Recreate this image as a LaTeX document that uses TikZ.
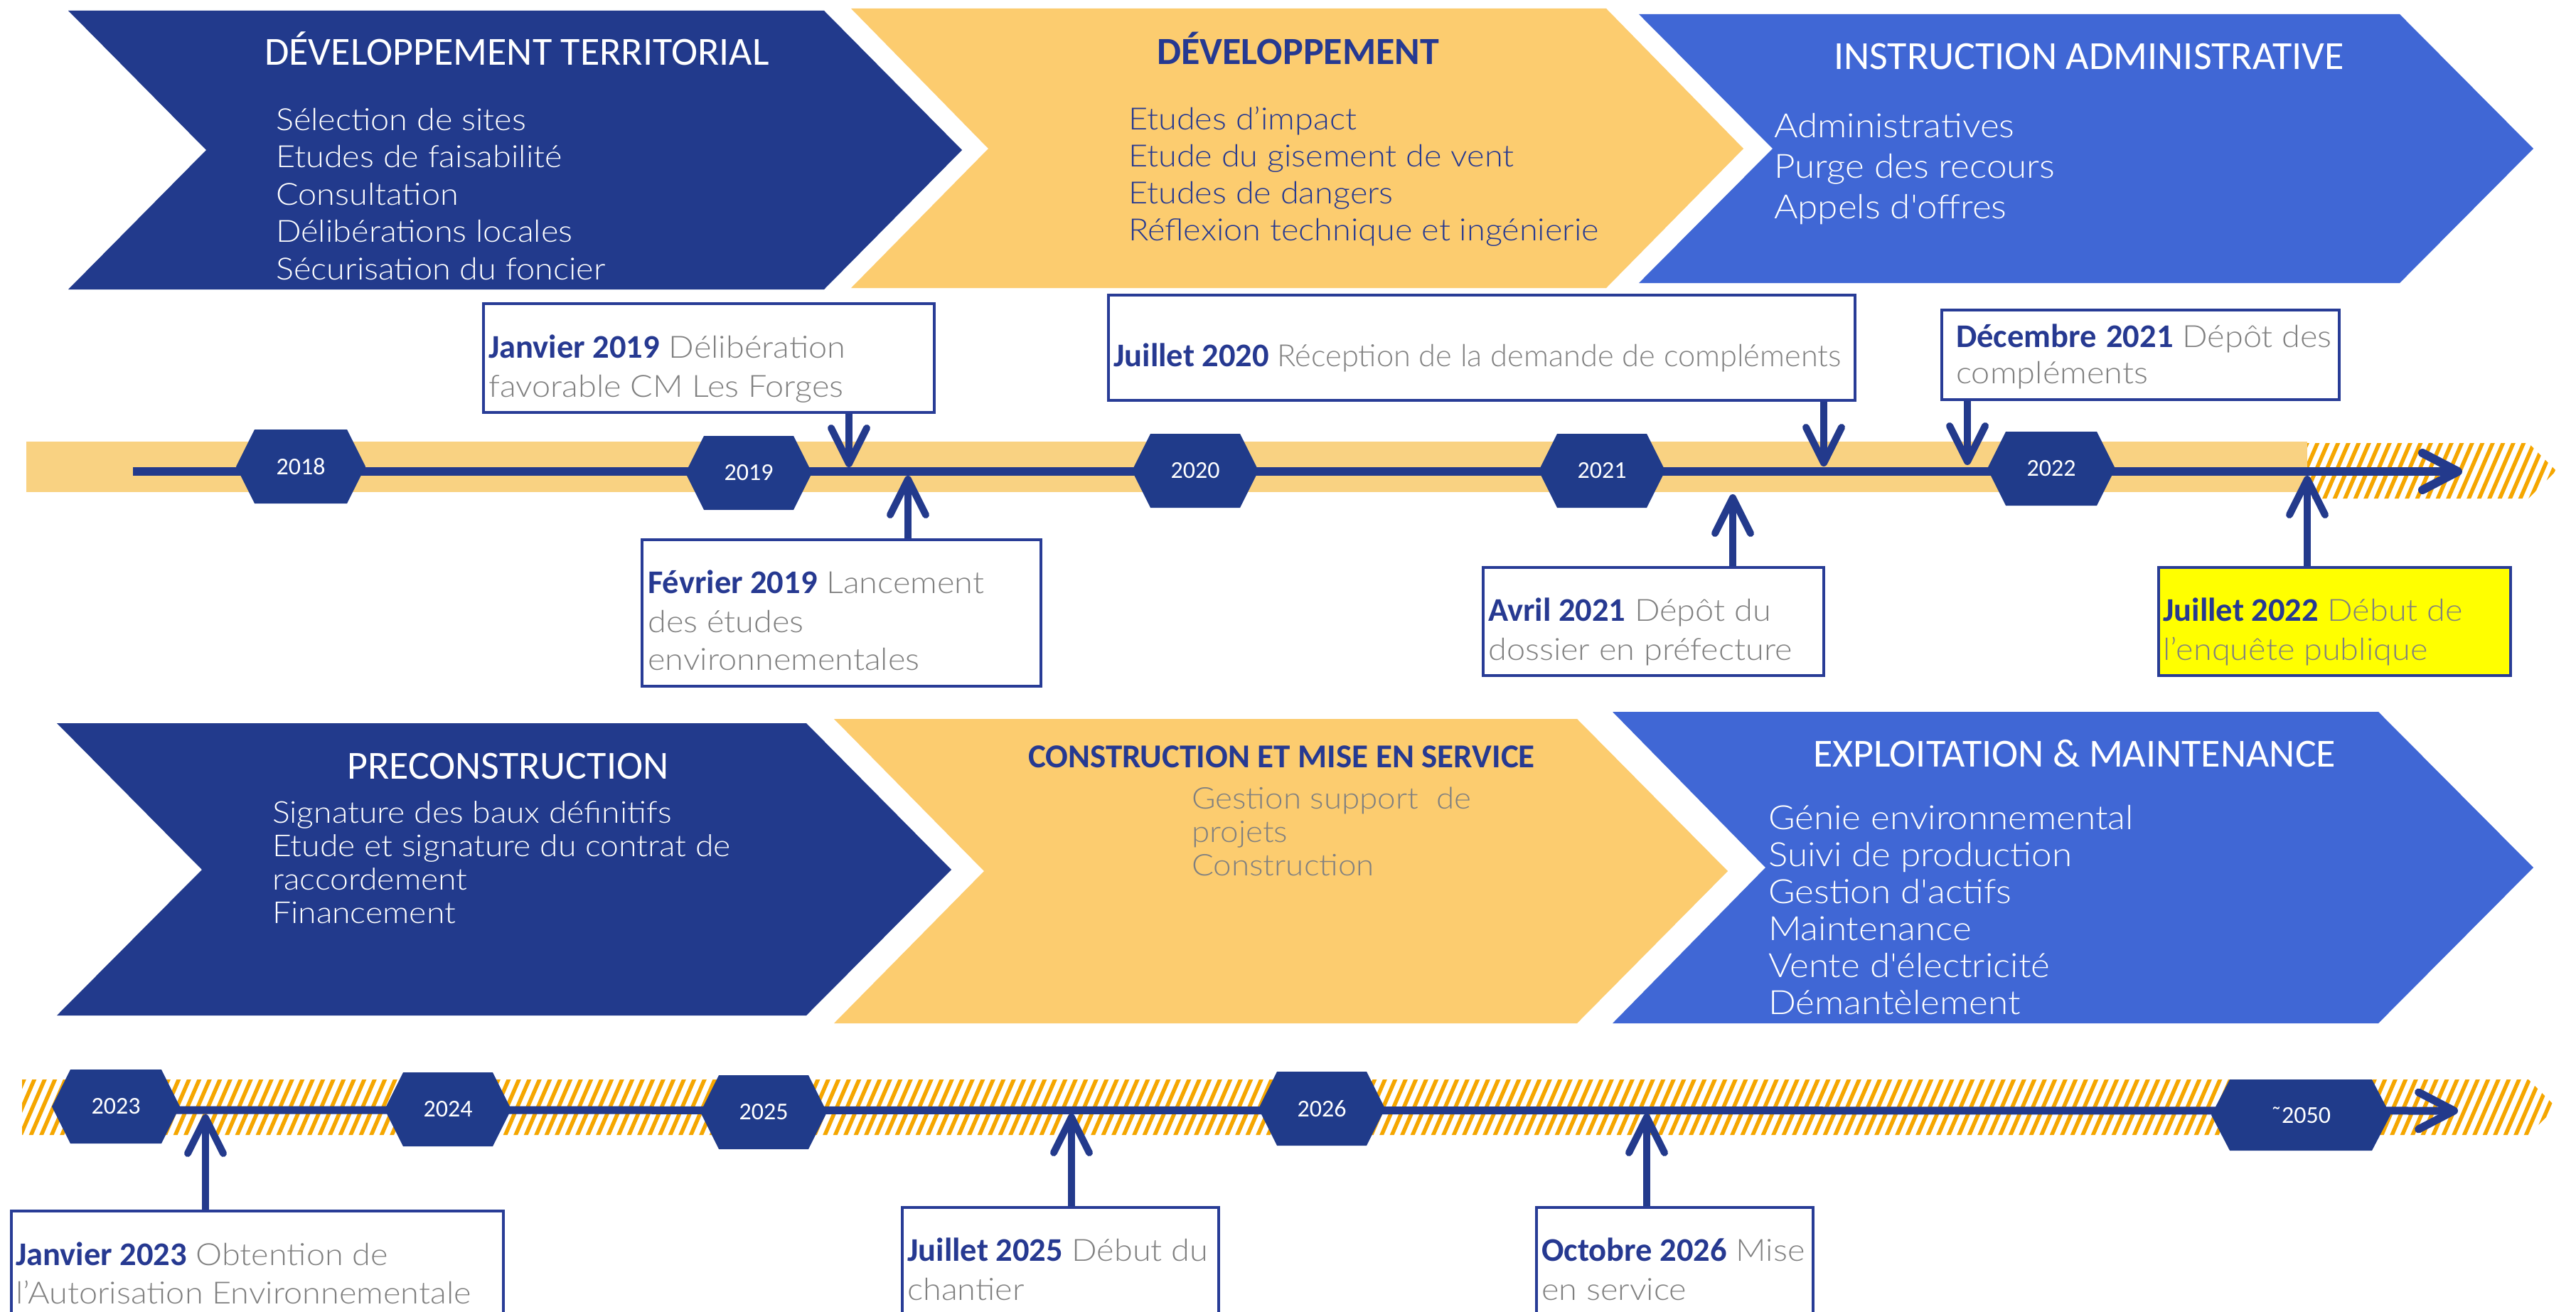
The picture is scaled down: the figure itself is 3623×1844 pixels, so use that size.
\documentclass[tikz,border=0pt]{standalone}
\usepackage{fontspec}
\setmainfont{Carlito}
\newfontfamily\lightf{Lato Light}[FakeStretch=1.09]
\newfontfamily\lightn{Lato Light}[FakeStretch=1.01]
\usetikzlibrary{arrows.meta}
\definecolor{cdark}{RGB}{34,58,140}
\definecolor{cyellow}{RGB}{252,204,111}
\definecolor{clight}{RGB}{64,103,213}
\definecolor{bandyellow}{RGB}{249,210,130}
\definecolor{hexblue}{RGB}{32,59,138}
\definecolor{lineblue}{RGB}{35,58,140}
\definecolor{hatchorange}{RGB}{245,166,0}
\definecolor{evblue}{RGB}{38,57,145}
\definecolor{evgray}{RGB}{128,128,128}
\definecolor{boxblue}{RGB}{40,60,150}
\definecolor{evyellow}{RGB}{255,255,0}
\newcommand\evdate[1]{{\normalfont\bfseries\fontsize{46.5}{52}\selectfont\color{evblue}#1}}
\newcommand\yearhex[6]{%
  \fill[hexblue] ({#2-#4+26},{#3-#5}) -- ({#2+#4-26},{#3-#5}) -- ({#2+#4},#3) --
    ({#2+#4-26},{#3+#5}) -- ({#2-#4+26},{#3+#5}) -- ({#2-#4},#3) -- cycle;
  \node[yeartxt] (#1) at (#2,#3) {#6};}
\tikzset{
  chevtitle/.style={anchor=base west, inner sep=0pt, text=white, font=\fontsize{56}{60}\selectfont},
  chevbody/.style={anchor=base west, inner sep=0pt, font=\lightf\fontsize{43}{52}\selectfont},
  yeartxt/.style={text=white, inner sep=0pt, font=\fontsize{34}{36}\selectfont},
  evbox/.style={draw=boxblue, line width=4pt, fill=white, anchor=north west, inner sep=0pt},
  evtext/.style={anchor=base west, inner sep=0pt, text=evgray, font=\lightf\fontsize{43}{52}\selectfont},
  evarrow/.style={draw=lineblue, line width=10pt, -{Straight Barb[length=50pt,width=50pt,round]}},
  tline/.style={draw=lineblue, line width=12pt, -{Straight Barb[length=50pt,width=52pt,round]}},
  hatchline/.style={draw=hatchorange, line width=5.5pt}
}
\begin{document}
\begin{tikzpicture}[x=1pt,y=-1pt]
\useasboundingbox (0,0) rectangle (3623,1844);
\clip (0,0) rectangle (3623,1844);
\fill[white] (0,0) rectangle (3623,1844);

% ---------- top chevrons ----------
\fill[cdark] (96,15) -- (1159,15) -- (1353,211) -- (1159,407) -- (96,407) -- (290,211) -- cycle;
\fill[cyellow] (1197,12) -- (2259,12) -- (2452,209) -- (2259,405) -- (1197,405) -- (1390,209) -- cycle;
\fill[clight] (2305,20) -- (3375,20) -- (3563,209) -- (3375,398) -- (2305,398) -- (2493,209) -- cycle;

\node[chevtitle] (t1) at (372,92) {DÉVELOPPEMENT TERRITORIAL};
\node[chevtitle, text=evblue, font=\bfseries\fontsize{54}{60}\selectfont] (t2) at (1627,90) {DÉVELOPPEMENT};
\node[chevtitle] (t3) at (2579,97) {INSTRUCTION ADMINISTRATIVE};

\foreach \t [count=\i] in {Sélection de sites, Etudes de faisabilité, Consultation, Délibérations locales, Sécurisation du foncier}
  \node[chevbody, text=white] (ba\i) at (388,{183+52.5*(\i-1)}) {\t};
\foreach \t [count=\i] in {Etudes d’impact, Etude du gisement de vent, Etudes de dangers, Réflexion technique et ingénierie}
  \node[chevbody, text=evblue] (bb\i) at (1587,{182+52.3*(\i-1)}) {\t};
\foreach \t [count=\i] in {Administratives, Purge des recours, Appels d'offres}
  \node[chevbody, text=white, font=\lightf\fontsize{47}{52}\selectfont] (bc\i) at (2495,{193+57*(\i-1)}) {\t};

% ---------- bottom chevrons ----------
\fill[cdark] (80,1017) -- (1134,1017) -- (1338,1223) -- (1134,1428) -- (80,1428) -- (284,1223) -- cycle;
\fill[cyellow] (1173,1011) -- (2218,1011) -- (2430,1225) -- (2218,1439) -- (1173,1439) -- (1384,1225) -- cycle;
\fill[clight] (2268,1001) -- (3345,1001) -- (3563,1220) -- (3345,1439) -- (2268,1439) -- (2483,1220) -- cycle;

\node[chevtitle] (t4) at (488,1095) {PRECONSTRUCTION};
\node[chevtitle, text=evblue, font=\bfseries\fontsize{47}{52}\selectfont] (t5) at (1446,1079) {CONSTRUCTION ET MISE EN SERVICE};
\node[chevtitle] (t6) at (2550,1078) {EXPLOITATION \& MAINTENANCE};

\foreach \t [count=\i] in {Signature des baux définitifs, Etude et signature du contrat de, raccordement, Financement}
  \node[chevbody, text=white, font=\lightf\fontsize{42.5}{48}\selectfont] (bd\i) at (383,{1157+47*(\i-1)}) {\t};
\foreach \t [count=\i] in {Gestion support\ \ de, projets, Construction}
  \node[chevbody, text=evgray, font=\lightf\fontsize{42}{48}\selectfont] (be\i) at (1676,{1137+47*(\i-1)}) {\t};
\foreach \t [count=\i] in {Génie environnemental, Suivi de production, Gestion d'actifs, Maintenance, Vente d'électricité, Démantèlement}
  \node[chevbody, text=white, font=\lightf\fontsize{47}{52}\selectfont] (bf\i) at (2487,{1166+52*(\i-1)}) {\t};

% ---------- timeline 1 ----------
\fill[bandyellow] (37,621) rectangle (3245,692);
\begin{scope}
  \clip (3245,623) -- (3556,623) -- (3595,662) -- (3556,701) -- (3245,701) -- cycle;
  \foreach \x in {3180,3194.5,...,3620} \draw[hatchline] (\x,706) -- ++(38,-88);
\end{scope}
\coordinate (l1s) at (187,663);
\coordinate (l1e) at (3463,663);
\draw[tline] (l1s) -- (l1e);

\yearhex{y18}{423}{656}{91}{52}{2018}
\yearhex{y19}{1053}{665}{89}{52}{2019}
\yearhex{y20}{1681}{662}{89}{52}{2020}
\yearhex{y21}{2253}{662}{89}{52}{2021}
\yearhex{y22}{2885}{659}{90}{52}{2022}

% event boxes top
\node[evbox, minimum width=634pt, minimum height=153pt] (bj19) at (678,425) {};
\node[evtext] (tj19a) at (687,503) {\evdate{Janvier 2019} Délibération};
\node[evtext] (tj19b) at (687,558) {favorable CM Les Forges};

\node[evbox, minimum width=561pt, minimum height=206pt] (bf19) at (901,757) {};
\node[evtext] (tf19a) at (911,834) {\evdate{Février 2019} Lancement};
\node[evtext] (tf19b) at (911,889) {des études};
\node[evtext] (tf19c) at (911,942) {environnementales};

\node[evbox, minimum width=1050pt, minimum height=148pt] (bj20) at (1557,413) {};
\node[evtext, font=\lightn\fontsize{43}{52}\selectfont] (tj20a) at (1566,515) {\evdate{Juillet 2020} Réception de la demande de compléments};

\node[evbox, minimum width=479pt, minimum height=152pt] (ba21) at (2084,796) {};
\node[evtext] (ta21a) at (2093,873) {\evdate{Avril 2021} Dépôt du};
\node[evtext] (ta21b) at (2093,928) {dossier en préfecture};

\node[evbox, minimum width=559pt, minimum height=126pt] (bd21) at (2729,434) {};
\node[evtext] (td21a) at (2751,488) {\evdate{Décembre\hspace{3pt} 2021} Dépôt des};
\node[evtext] (td21b) at (2751,539) {compléments};

\node[evbox, fill=evyellow, minimum width=495pt, minimum height=152pt] (bj22) at (3034,796) {};
\node[evtext] (tj22a) at (3042,873) {\evdate{Juillet 2022} Début de};
\node[evtext] (tj22b) at (3042,928) {l’enquête publique};

\coordinate (aj19) at (1194,657);
\coordinate (af19) at (1277,669);
\coordinate (aj20) at (2565,656);
\coordinate (aa21) at (2437,695);
\coordinate (ad21) at (2767,654);
\coordinate (aj22) at (3245,669);
\draw[evarrow] (bj19.south -| aj19) -- (aj19);
\draw[evarrow] (bf19.north -| af19) -- (af19);
\draw[evarrow] (bj20.south -| aj20) -- (aj20);
\draw[evarrow] (ba21.north -| aa21) -- (aa21);
\draw[evarrow] (bd21.south -| ad21) -- (ad21);
\draw[evarrow] (bj22.north -| aj22) -- (aj22);

% ---------- timeline 2 ----------
\begin{scope}
  \clip (31,1518) -- (3556,1518) -- (3595,1557) -- (3556,1596) -- (31,1596) -- cycle;
  \foreach \x in {-60,-45.5,...,3620} \draw[hatchline] (\x,1601) -- ++(38,-88);
\end{scope}
\coordinate (l2s) at (163,1561);
\coordinate (l2e) at (3457,1562);
\draw[tline, line width=11pt] (l2s) -- (l2e);

\yearhex{y23}{163}{1556}{90}{52}{2023}
\yearhex{y24}{630}{1560}{89}{52}{2024}
\yearhex{y25}{1074}{1564}{89}{52}{2025}
\yearhex{y26}{1859}{1559}{89}{52}{2026}
\yearhex{y50}{3236}{1568}{126}{50}{\char"02DC 2050}

\node[evbox, minimum width=692pt, minimum height=170pt] (bj23) at (14,1701) {};
\node[evtext] (tj23a) at (22,1779) {\evdate{Janvier 2023} Obtention de};
\node[evtext] (tj23b) at (22,1833) {l’Autorisation Environnementale};

\node[evbox, minimum width=445pt, minimum height=170pt] (bj25) at (1267,1696) {};
\node[evtext] (tj25a) at (1276,1773) {\evdate{Juillet 2025} Début du};
\node[evtext] (tj25b) at (1276,1828) {chantier};

\node[evbox, minimum width=389pt, minimum height=170pt] (bo26) at (2159,1696) {};
\node[evtext] (to26a) at (2168,1773) {\evdate{Octobre 2026} Mise};
\node[evtext] (to26b) at (2168,1828) {en service};

\coordinate (aj23) at (289,1567);
\coordinate (aj25) at (1507,1566);
\coordinate (ao26) at (2316,1566);
\draw[evarrow] (bj23.north -| aj23) -- (aj23);
\draw[evarrow] (bj25.north -| aj25) -- (aj25);
\draw[evarrow] (bo26.north -| ao26) -- (ao26);
\end{tikzpicture}
\end{document}
